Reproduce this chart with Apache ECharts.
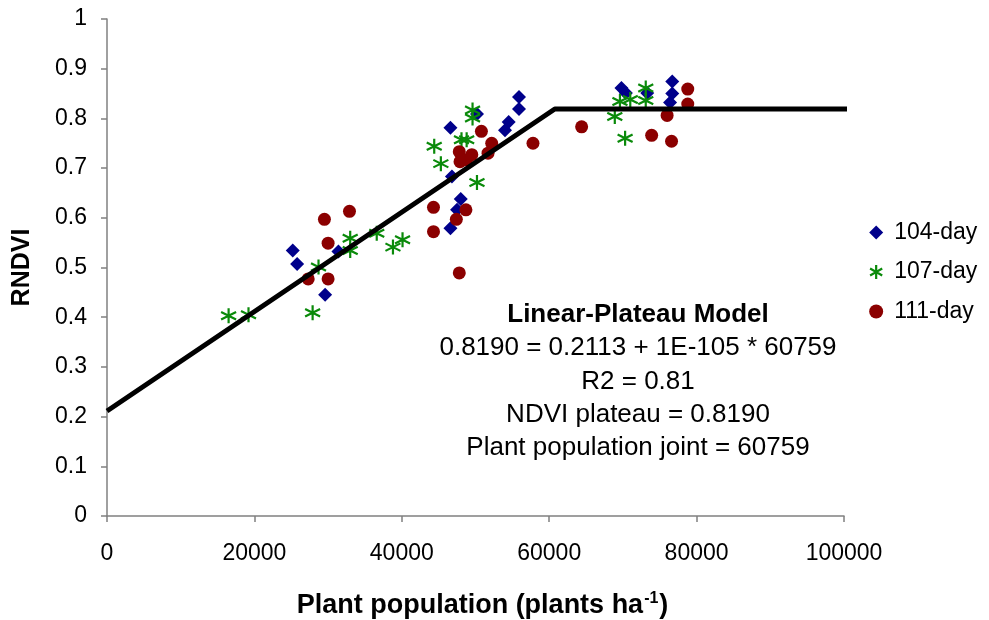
<!DOCTYPE html>
<html>
<head>
<meta charset="utf-8">
<script src="https://cdn.jsdelivr.net/npm/echarts@6/dist/echarts.min.js"></script>
<style>html,body{margin:0;padding:0;background:#fff;}#c{width:989px;height:620px;}</style>
</head>
<body>
<div id="c"></div>
<script>
// 104-day (x: plants/ha, y: RNDVI)
const x104 = [25200, 25800, 29600, 31400, 55900, 55900, 46600, 54500, 54000, 50200, 46800, 48000, 47500, 46600, 69800, 70400, 73300, 76700, 76700, 76400];
const y104 = [0.534, 0.507, 0.445, 0.532, 0.843, 0.819, 0.781, 0.793, 0.776, 0.809, 0.683, 0.638, 0.616, 0.579, 0.861, 0.851, 0.851, 0.874, 0.850, 0.832];
// 107-day
const x107 = [16500, 19200, 27900, 28700, 33000, 33000, 36600, 38800, 40100, 49600, 49600, 44400, 45300, 48100, 48800, 50200, 68900, 69600, 71000, 70300, 73100, 73100];
const y107 = [0.403, 0.405, 0.409, 0.501, 0.559, 0.534, 0.569, 0.541, 0.556, 0.817, 0.801, 0.744, 0.709, 0.757, 0.757, 0.671, 0.804, 0.834, 0.838, 0.760, 0.861, 0.836];
// 111-day
const x111 = [29500, 32900, 30000, 27300, 30000, 50800, 57800, 52200, 51700, 47800, 49500, 47900, 48800, 44300, 48700, 47400, 44300, 47800, 64400, 73900, 76600, 76000, 78800, 78800];
const y111 = [0.597, 0.613, 0.549, 0.477, 0.477, 0.774, 0.750, 0.750, 0.730, 0.733, 0.727, 0.713, 0.717, 0.621, 0.616, 0.597, 0.572, 0.489, 0.783, 0.766, 0.754, 0.806, 0.859, 0.829];
// Linear-plateau model line
const modelX = [0, 60759, 101700];
const modelY = [0.2113, 0.8190, 0.8190];
const seriesNames = ['104-day', '107-day', '111-day'];
const xTicks = [0, 20000, 40000, 60000, 80000, 100000];
const annotation = ['Linear-Plateau Model', '0.8190 = 0.2113 + 1E-105 * 60759', 'R2 = 0.81', 'NDVI plateau = 0.8190', 'Plant population joint = 60759'];

const zip = (a, b) => a.map((v, i) => [v, b[i]]);
const FONT = 'Liberation Sans, Arial, sans-serif';
const starPath = 'path://M0,-10 L0,10 M-8.66,-5 L8.66,5 M-8.66,5 L8.66,-5';
const GREEN = '#0a8a0a';

const chart = echarts.init(document.getElementById('c'), null, {renderer: 'canvas'});
chart.setOption({
  animation: false,
  backgroundColor: '#fff',
  grid: {left: 107, right: 145, top: 19, bottom: 104, containLabel: false, outerBoundsMode: 'none'},
  xAxis: {
    type: 'value', min: xTicks[0], max: xTicks[xTicks.length - 1], interval: 20000,
    name: '{t|Plant population (plants ha}{s|-1}{t|)}',
    nameLocation: 'middle', nameGap: 75,
    nameTextStyle: {padding: [0, 0, 0, 14], rich: {
      t: {fontFamily: FONT, fontWeight: 'bold', fontSize: 27, color: '#000'},
      s: {fontFamily: FONT, fontWeight: 'bold', fontSize: 16, color: '#000', verticalAlign: 'top', padding: [0, 1, 14, 1]}
    }},
    axisLine: {lineStyle: {color: '#808080', width: 1.5}},
    axisTick: {inside: false, length: 6, lineStyle: {color: '#808080', width: 1.5}},
    axisLabel: {fontFamily: FONT, fontSize: 23, color: '#000', margin: 26, formatter: v => String(v)},
    splitLine: {show: false}
  },
  yAxis: {
    type: 'value', min: 0, max: 1, interval: 0.1,
    name: 'RNDVI', nameLocation: 'middle', nameGap: 72, nameRotate: 90,
    nameTextStyle: {fontFamily: FONT, fontWeight: 'bold', fontSize: 25, color: '#000'},
    axisLine: {lineStyle: {color: '#808080', width: 1.5}},
    axisTick: {inside: false, length: 6, lineStyle: {color: '#808080', width: 1.5}},
    axisLabel: {fontFamily: FONT, fontSize: 23, color: '#000', margin: 20, formatter: v => String(Math.round(v * 10) / 10)},
    splitLine: {show: false}
  },
  legend: {
    orient: 'vertical', left: 864, top: 216, itemGap: 16.5, itemWidth: 14, itemHeight: 14,
    textStyle: {fontFamily: FONT, fontSize: 23, color: '#000', padding: [0, 0, 0, 6]},
    data: [
      {name: seriesNames[0], icon: 'diamond'},
      {name: seriesNames[1], icon: starPath, itemStyle: {color: 'rgba(0,0,0,0)', borderColor: GREEN, borderWidth: 2.2, opacity: 1}},
      {name: seriesNames[2], icon: 'circle'}
    ]
  },
  graphic: annotation.map((t, i) => ({
    type: 'text', x: 638, y: 315 + i * 33.2,
    style: {text: t, textAlign: 'center', textVerticalAlign: 'middle',
      font: (i === 0 ? 'bold ' : '') + '26px ' + FONT, fill: '#000'}
  })),
  series: [
    {name: seriesNames[0], type: 'scatter', symbol: 'diamond', symbolSize: 14, z: 2,
      itemStyle: {color: '#00008b', opacity: 1}, data: zip(x104, y104)},
    {name: seriesNames[1], type: 'scatter', symbol: starPath, symbolSize: 15, z: 2,
      itemStyle: {color: 'rgba(0,0,0,0)', borderColor: GREEN, borderWidth: 2.2, opacity: 1}, data: zip(x107, y107)},
    {name: seriesNames[2], type: 'scatter', symbol: 'circle', symbolSize: 13, z: 2,
      itemStyle: {color: '#8b0000', opacity: 1}, data: zip(x111, y111)},
    {name: 'model', type: 'line', symbol: 'none', clip: false, z: 5, silent: true,
      lineStyle: {color: '#000', width: 5}, data: zip(modelX, modelY)}
  ]
});
</script>
</body>
</html>
